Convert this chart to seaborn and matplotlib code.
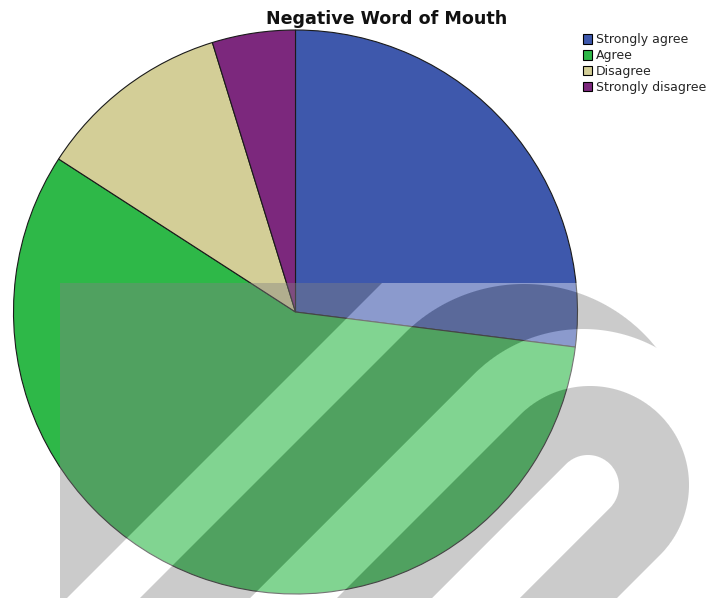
import numpy as np
import matplotlib
matplotlib.use("Agg")
import matplotlib.pyplot as plt
from matplotlib.patches import Patch
import seaborn as sns

# Survey responses
categories = ["Strongly agree", "Agree", "Disagree", "Strongly disagree"]
counts = [17, 36, 7, 3]
colors = ["#3E58AC", "#2EB848", "#D3CE97", "#7C287D"]
title = "Negative Word of Mouth"

sns.set_theme(style="white")
plt.rcParams["font.family"] = ["DejaVu Sans"]

W, H = 709, 598
fig = plt.figure(figsize=(W / 100, H / 100), dpi=100)
fig.patch.set_facecolor("white")

# Pie, placed by its centre and radius in pixels
cx, cy, r = 295.5, 312.0, 282.0
ax = fig.add_axes([(cx - r) / W, (H - cy - r) / H, 2 * r / W, 2 * r / H])
palette = sns.color_palette(colors)
wedges, _ = ax.pie(counts, colors=palette, startangle=90, counterclock=False,
                   radius=1.0,
                   wedgeprops=dict(edgecolor="#1a1a1a", linewidth=0.8))
for w in wedges:
    w.set_clip_on(False)
ax.set_xlim(-1, 1)
ax.set_ylim(-1, 1)
ax.set_aspect("equal")
ax.axis("off")

fig.text(386.5 / W, 1 - 24 / H, title, ha="center", va="baseline",
         fontsize=12.6, fontweight="bold", color="#111111")

handles = [Patch(facecolor=c, edgecolor="black", linewidth=0.8, label=l)
           for c, l in zip(palette, categories)]
fig.legend(handles=handles, loc="upper left",
           bbox_to_anchor=(583 / W, 1 - 33.5 / H), frameon=False,
           fontsize=9.0, handlelength=0.75, handleheight=0.8,
           handletextpad=0.3, labelspacing=0.22, borderpad=0,
           borderaxespad=0)

# Translucent logo overlay in the lower right
ov = fig.add_axes([0, 0, 1, 1], zorder=5)
x0, y0 = 60, 283
xs = np.arange(x0, W) + 0.5
ys = np.arange(y0, H) + 0.5
X, Y = np.meshgrid(xs, ys)


def capsule(px, py, rad):
    # signed distance to a half-line starting at (px, py) heading down-left
    ux, uy = -np.sqrt(0.5), np.sqrt(0.5)
    t = np.maximum(0, (X - px) * ux + (Y - py) * uy)
    dx = X - (px + t * ux)
    dy = Y - (py + t * uy)
    return np.hypot(dx, dy) - rad


band_a = (X + Y - 665) / np.sqrt(2)
band_b = np.maximum(capsule(524, 453, 169), -capsule(583, 483, 154))
band_c = np.maximum(capsule(590, 485, 99), -capsule(588, 486, 31))
sd = np.minimum(np.minimum(band_a, band_b), band_c)
cov = np.clip(0.5 - sd, 0, 1)

ag, g, aw = 0.417, 0.51, 0.40
alpha = cov * ag + (1 - cov) * aw
val = (cov * g * ag + (1 - cov) * aw) / alpha
rgba = np.dstack([val, val, val, alpha])
ov.imshow(rgba, extent=(x0, W, H, y0), origin="upper",
          interpolation="nearest", aspect="auto")
ov.set_xlim(0, W)
ov.set_ylim(H, 0)
ov.axis("off")

fig.savefig("out.png", dpi=100, facecolor="white")
